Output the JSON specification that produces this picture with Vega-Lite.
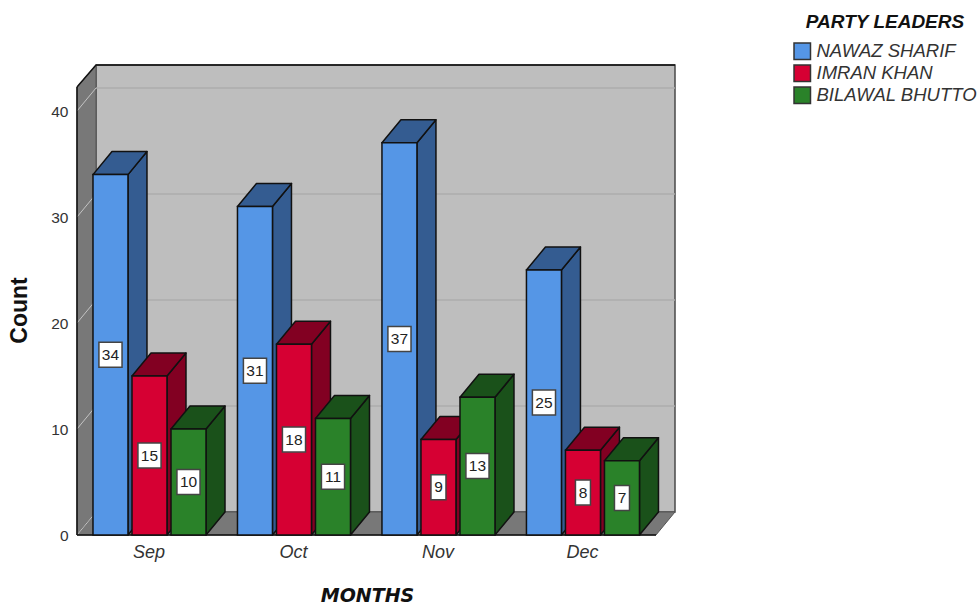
{
  "$schema": "https://vega.github.io/schema/vega-lite/v6.json",
  "width": 598,
  "height": 470,
  "autosize": "none",
  "padding": {"left": 77, "top": 65, "right": 303, "bottom": 67},
  "background": "white",
  "config": {"view": {"stroke": null}, "font": "Liberation Sans"},
  "data": {
    "values": [
      {"month": "Sep", "leader": "NAWAZ SHARIF", "count": 34},
      {"month": "Sep", "leader": "IMRAN KHAN", "count": 15},
      {"month": "Sep", "leader": "BILAWAL BHUTTO", "count": 10},
      {"month": "Oct", "leader": "NAWAZ SHARIF", "count": 31},
      {"month": "Oct", "leader": "IMRAN KHAN", "count": 18},
      {"month": "Oct", "leader": "BILAWAL BHUTTO", "count": 11},
      {"month": "Nov", "leader": "NAWAZ SHARIF", "count": 37},
      {"month": "Nov", "leader": "IMRAN KHAN", "count": 9},
      {"month": "Nov", "leader": "BILAWAL BHUTTO", "count": 13},
      {"month": "Dec", "leader": "NAWAZ SHARIF", "count": 25},
      {"month": "Dec", "leader": "IMRAN KHAN", "count": 8},
      {"month": "Dec", "leader": "BILAWAL BHUTTO", "count": 7}
    ]
  },
  "transform": [
    {"calculate": "indexof(['Sep','Oct','Nov','Dec'], datum.month)", "as": "m"},
    {"calculate": "indexof(['NAWAZ SHARIF','IMRAN KHAN','BILAWAL BHUTTO'], datum.leader)", "as": "s"},
    {"calculate": "datum.m + (datum.s - 1) * 0.27 - 0.1211", "as": "xl"},
    {"calculate": "datum.xl + 0.2422", "as": "xr"},
    {"calculate": "datum.month + datum.leader", "as": "barId"},
    {"calculate": "0", "as": "base"}
  ],
  "layer": [
    {
      "data": {"values": [{"part": "back wall"}]},
      "transform": [
        {"calculate": "-0.3702", "as": "x1"},
        {"calculate": "3.637", "as": "x2"},
        {"calculate": "2.17", "as": "y1"},
        {"calculate": "44.34", "as": "y2"}
      ],
      "mark": {"type": "rect", "fill": "#bebebe", "stroke": "#4a4a4a", "strokeWidth": 1.5},
      "encoding": {
        "x": {
          "field": "x1",
          "type": "quantitative",
          "scale": {"domain": [-0.5017, 3.637], "nice": false, "zero": false},
          "axis": {
            "values": [0, 1, 2, 3],
            "labelExpr": "['Sep','Oct','Nov','Dec'][datum.value]",
            "ticks": false,
            "domain": false,
            "grid": false,
            "labelFont": "Liberation Sans",
            "labelFontStyle": "italic",
            "labelFontSize": 18,
            "labelColor": "#333333",
            "labelPadding": 8,
            "labelOffset": -1,
            "title": "MONTHS",
            "titleFont": "DejaVu Sans",
            "titleFontStyle": "italic",
            "titleFontWeight": "bold",
            "titleFontSize": 19,
            "titleColor": "#111111",
            "titleX": 290,
            "titleY": 51
          }
        },
        "x2": {"field": "x2"},
        "y": {
          "field": "y1",
          "type": "quantitative",
          "scale": {"domain": [0, 44.34], "nice": false, "zero": false},
          "axis": {
            "values": [0, 10, 20, 30, 40],
            "ticks": false,
            "domain": false,
            "grid": false,
            "labelFont": "Liberation Sans",
            "labelFontSize": 15.5,
            "labelColor": "#333333",
            "labelPadding": 9,
            "title": "Count",
            "titleFont": "Liberation Sans",
            "titleFontWeight": "bold",
            "titleFontSize": 23,
            "titleColor": "#111111",
            "titleX": -46,
            "titleY": 245
          }
        },
        "y2": {"field": "y2"}
      }
    },
    {
      "data": {"values": [{"edge": 0}, {"edge": 1}]},
      "transform": [
        {"calculate": "-0.5017 + datum.edge * 0.1315", "as": "wx"},
        {"calculate": "datum.edge * 2.17", "as": "wy"},
        {"calculate": "42.26 + datum.edge * 2.08", "as": "wy2"}
      ],
      "mark": {"type": "area", "orient": "vertical", "fill": "#787878", "stroke": "#555555", "strokeWidth": 1},
      "encoding": {
        "x": {"field": "wx", "type": "quantitative", "axis": null},
        "y": {"field": "wy", "type": "quantitative", "axis": null},
        "y2": {"field": "wy2"}
      }
    },
    {
      "data": {"values": [{"edge": 0}, {"edge": 1}]},
      "transform": [
        {"calculate": "datum.edge * 2.17", "as": "fy"},
        {"calculate": "-0.5017 + datum.edge * 0.1315", "as": "fx"},
        {"calculate": "datum.fx + 4.007", "as": "fx2"}
      ],
      "mark": {"type": "area", "orient": "horizontal", "fill": "#787878", "stroke": "#555555", "strokeWidth": 1},
      "encoding": {
        "y": {"field": "fy", "type": "quantitative", "axis": null},
        "x": {"field": "fx", "type": "quantitative", "axis": null},
        "x2": {"field": "fx2"}
      }
    },
    {
      "data": {"values": [{"tick": 10}, {"tick": 20}, {"tick": 30}, {"tick": 40}]},
      "transform": [
        {"calculate": "datum.tick + 2.17", "as": "backY"},
        {"calculate": "-0.3702", "as": "x1"},
        {"calculate": "3.637", "as": "x2"}
      ],
      "mark": {"type": "rule", "stroke": "#adadad", "strokeWidth": 1.5},
      "encoding": {
        "x": {"field": "x1", "type": "quantitative", "axis": null},
        "x2": {"field": "x2"},
        "y": {"field": "backY", "type": "quantitative", "axis": null}
      }
    },
    {
      "data": {"values": [{"tick": 0}, {"tick": 10}, {"tick": 20}, {"tick": 30}, {"tick": 40}]},
      "transform": [
        {"calculate": "datum.tick + 2.17", "as": "backY"},
        {"calculate": "-0.5017", "as": "x1"},
        {"calculate": "-0.3702", "as": "x2"}
      ],
      "mark": {"type": "rule", "stroke": "#c4c4c4", "strokeWidth": 1},
      "encoding": {
        "x": {"field": "x1", "type": "quantitative", "axis": null},
        "x2": {"field": "x2"},
        "y": {"field": "tick", "type": "quantitative", "axis": null},
        "y2": {"field": "backY"}
      }
    },
    {
      "data": {"values": [
        {"part": "left edge", "x1": -0.5017, "x2": -0.5017, "y1": 0, "y2": 42.26},
        {"part": "top diagonal", "x1": -0.5017, "x2": -0.3702, "y1": 42.26, "y2": 44.34},
        {"part": "top back edge", "x1": -0.3702, "x2": 3.637, "y1": 44.34, "y2": 44.34},
        {"part": "floor front edge", "x1": -0.5017, "x2": 3.5055, "y1": 0, "y2": 0}
      ]},
      "mark": {"type": "rule", "stroke": "#111111", "strokeWidth": 1.5},
      "encoding": {
        "x": {"field": "x1", "type": "quantitative", "axis": null},
        "x2": {"field": "x2"},
        "y": {"field": "y1", "type": "quantitative", "axis": null},
        "y2": {"field": "y2"}
      }
    },
    {
      "transform": [
        {"calculate": "[0, 1]", "as": "edge"},
        {"flatten": ["edge"]},
        {"calculate": "datum.xr + datum.edge * 0.1315", "as": "sx"},
        {"calculate": "datum.edge * 2.17", "as": "sy"},
        {"calculate": "datum.count + datum.edge * 2.17", "as": "sy2"}
      ],
      "mark": {"type": "area", "orient": "vertical", "stroke": "#111111", "strokeWidth": 1.5, "strokeJoin": "round"},
      "encoding": {
        "x": {"field": "sx", "type": "quantitative", "axis": null},
        "y": {"field": "sy", "type": "quantitative", "axis": null},
        "y2": {"field": "sy2"},
        "detail": {"field": "barId", "type": "nominal"},
        "color": {
          "field": "leader",
          "type": "nominal",
          "legend": null,
          "scale": {"domain": ["NAWAZ SHARIF", "IMRAN KHAN", "BILAWAL BHUTTO"], "range": ["#345c91", "#820022", "#1a511a"]}
        }
      }
    },
    {
      "transform": [
        {"calculate": "[0, 1]", "as": "edge"},
        {"flatten": ["edge"]},
        {"calculate": "datum.count + datum.edge * 2.17", "as": "ty"},
        {"calculate": "datum.xl + datum.edge * 0.1315", "as": "tx"},
        {"calculate": "datum.xr + datum.edge * 0.1315", "as": "tx2"}
      ],
      "mark": {"type": "area", "orient": "horizontal", "stroke": "#111111", "strokeWidth": 1.5, "strokeJoin": "round"},
      "encoding": {
        "y": {"field": "ty", "type": "quantitative", "axis": null},
        "x": {"field": "tx", "type": "quantitative", "axis": null},
        "x2": {"field": "tx2"},
        "detail": {"field": "barId", "type": "nominal"},
        "color": {
          "field": "leader",
          "type": "nominal",
          "legend": null,
          "scale": {"domain": ["NAWAZ SHARIF", "IMRAN KHAN", "BILAWAL BHUTTO"], "range": ["#345c91", "#820022", "#1a511a"]}
        }
      }
    },
    {
      "mark": {"type": "rect", "stroke": "#111111", "strokeWidth": 1.5},
      "encoding": {
        "x": {"field": "xl", "type": "quantitative", "axis": null},
        "x2": {"field": "xr"},
        "y": {"field": "base", "type": "quantitative", "axis": null},
        "y2": {"field": "count"},
        "color": {
          "field": "leader",
          "type": "nominal",
          "scale": {"domain": ["NAWAZ SHARIF", "IMRAN KHAN", "BILAWAL BHUTTO"], "range": ["#5596e6", "#d60033", "#2a8229"]},
          "legend": {
            "orient": "none",
            "legendX": 716,
            "legendY": -52,
            "title": "PARTY LEADERS",
            "titleFont": "Liberation Sans",
            "titleFontStyle": "italic",
            "titleFontWeight": "bold",
            "titleFontSize": 19,
            "titleColor": "#111111",
            "titlePadding": 10,
            "titleAnchor": "middle",
            "labelFont": "Liberation Sans",
            "labelFontStyle": "italic",
            "labelFontSize": 18.5,
            "labelColor": "#333333",
            "labelOffset": 5,
            "labelLimit": 200,
            "symbolType": "square",
            "symbolSize": 272,
            "symbolStrokeColor": "#333333",
            "symbolStrokeWidth": 1.5,
            "rowPadding": -1
          }
        }
      }
    },
    {
      "transform": [
        {"calculate": "(datum.xl + datum.xr) / 2", "as": "xc"},
        {"calculate": "datum.count >= 10 ? 0.08 : 0.052", "as": "hw"},
        {"calculate": "datum.xc - datum.hw", "as": "bx"},
        {"calculate": "datum.xc + datum.hw", "as": "bx2"},
        {"calculate": "datum.count / 2 - 1.18", "as": "by"},
        {"calculate": "datum.count / 2 + 1.18", "as": "by2"}
      ],
      "mark": {"type": "rect", "fill": "white", "stroke": "#444444", "strokeWidth": 1.5},
      "encoding": {
        "x": {"field": "bx", "type": "quantitative", "axis": null},
        "x2": {"field": "bx2"},
        "y": {"field": "by", "type": "quantitative", "axis": null},
        "y2": {"field": "by2"}
      }
    },
    {
      "transform": [
        {"calculate": "(datum.xl + datum.xr) / 2", "as": "xc"},
        {"calculate": "datum.count / 2", "as": "yc"}
      ],
      "mark": {"type": "text", "font": "Liberation Sans", "fontSize": 15.5, "fill": "#222222", "baseline": "middle", "align": "center"},
      "encoding": {
        "x": {"field": "xc", "type": "quantitative", "axis": null},
        "y": {"field": "yc", "type": "quantitative", "axis": null},
        "text": {"field": "count", "type": "quantitative"}
      }
    }
  ],
  "resolve": {
    "scale": {"color": "independent"},
    "axis": {"x": "independent", "y": "independent"}
  }
}
